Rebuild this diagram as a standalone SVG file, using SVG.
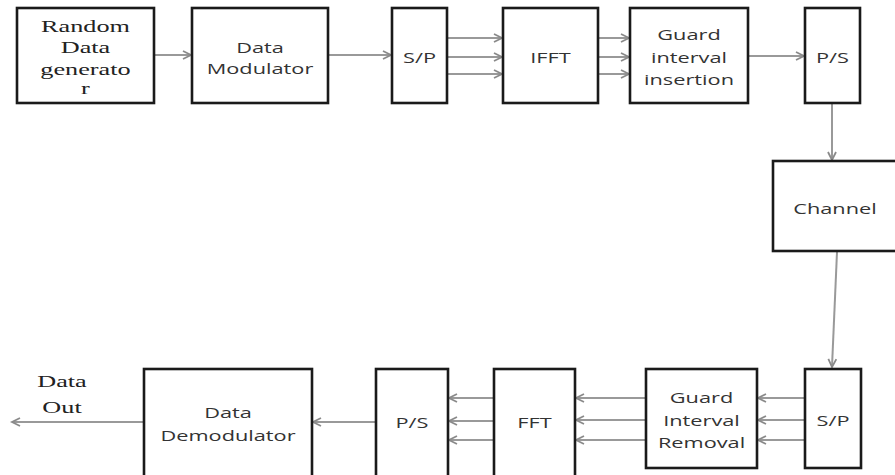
<svg xmlns="http://www.w3.org/2000/svg" width="895" height="475" viewBox="0 0 895 475">
<defs>
<marker id="ah" markerWidth="12" markerHeight="12" refX="9" refY="5" orient="auto" markerUnits="userSpaceOnUse">
<path d="M1,1 L9,5 L1,9" fill="none" stroke="#8a8a8a" stroke-width="1.8"/>
</marker>
<style>
.box{fill:#fff;stroke:#1a1a1a;stroke-width:2.6}
.ln{stroke:#999;stroke-width:2;fill:none;marker-end:url(#ah)}
.t{font-family:"Open Sans","Liberation Sans",sans-serif;font-size:15px;fill:#333;text-anchor:middle}
.s{font-family:"Liberation Serif","DejaVu Serif",serif;font-size:17.5px;fill:#222;text-anchor:middle}
</style>
</defs>
<rect width="895" height="475" fill="#fff"/>
<g id="connectors">
<line class="ln" x1="155" y1="55" x2="191" y2="55"/>
<line class="ln" x1="329" y1="55" x2="391" y2="55"/>
<line class="ln" x1="448" y1="38" x2="502" y2="38"/>
<line class="ln" x1="448" y1="57" x2="502" y2="57"/>
<line class="ln" x1="448" y1="74" x2="502" y2="74"/>
<line class="ln" x1="599" y1="38" x2="629" y2="38"/>
<line class="ln" x1="599" y1="57" x2="629" y2="57"/>
<line class="ln" x1="599" y1="74" x2="629" y2="74"/>
<line class="ln" x1="749" y1="56" x2="804" y2="56"/>
<line class="ln" x1="832" y1="104" x2="832" y2="160"/>
<line class="ln" x1="837" y1="252" x2="832" y2="367"/>
<line class="ln" x1="804" y1="398" x2="758" y2="398"/>
<line class="ln" x1="804" y1="420" x2="758" y2="420"/>
<line class="ln" x1="804" y1="440" x2="758" y2="440"/>
<line class="ln" x1="645" y1="398" x2="576" y2="398"/>
<line class="ln" x1="645" y1="420" x2="576" y2="420"/>
<line class="ln" x1="645" y1="440" x2="576" y2="440"/>
<line class="ln" x1="493" y1="398" x2="449" y2="398"/>
<line class="ln" x1="493" y1="421" x2="449" y2="421"/>
<line class="ln" x1="493" y1="440" x2="449" y2="440"/>
<line class="ln" x1="375" y1="422" x2="313" y2="422"/>
<line class="ln" x1="143" y1="422" x2="12" y2="422"/>
</g>
<g id="random">
<rect class="box" x="17" y="8" width="137" height="95"/>
<g class="s" transform="translate(85.5,0) scale(1.5,1)">
<text x="0" y="32">Random</text><text x="0" y="53">Data</text><text x="0" y="75">generato</text><text x="0" y="94">r</text>
</g>
</g>
<g id="modulator">
<rect class="box" x="192" y="8" width="136" height="95"/>
<g class="t" transform="translate(260,0) scale(1.45,1)">
<text x="0" y="53">Data</text><text x="0" y="74">Modulator</text>
</g>
</g>
<g id="sp1">
<rect class="box" x="392" y="8" width="55" height="95"/>
<text class="t" transform="translate(419.5,63) scale(1.45,1)">S/P</text>
</g>
<g id="ifft">
<rect class="box" x="503" y="8" width="95" height="95"/>
<text class="t" transform="translate(550.5,63) scale(1.45,1)">IFFT</text>
</g>
<g id="gi">
<rect class="box" x="630" y="8" width="118" height="95"/>
<g class="t" transform="translate(689,0) scale(1.45,1)">
<text x="0" y="40">Guard</text><text x="0" y="63">interval</text><text x="0" y="85">insertion</text>
</g>
</g>
<g id="ps1">
<rect class="box" x="805" y="8" width="55" height="95"/>
<text class="t" transform="translate(832.5,63) scale(1.45,1)">P/S</text>
</g>
<g id="channel">
<rect class="box" x="773" y="161" width="130" height="90"/>
<text class="t" transform="translate(835,214) scale(1.45,1)">Channel</text>
</g>
<g id="sp2">
<rect class="box" x="805" y="369" width="56" height="99"/>
<text class="t" transform="translate(833,426) scale(1.45,1)">S/P</text>
</g>
<g id="gr">
<rect class="box" x="646" y="369" width="111" height="99"/>
<g class="t" transform="translate(701.5,0) scale(1.45,1)">
<text x="0" y="403">Guard</text><text x="0" y="426">Interval</text><text x="0" y="448">Removal</text>
</g>
</g>
<g id="fft">
<rect class="box" x="494" y="369" width="81" height="112"/>
<text class="t" transform="translate(534.5,428) scale(1.45,1)">FFT</text>
</g>
<g id="ps2">
<rect class="box" x="376" y="369" width="72" height="112"/>
<text class="t" transform="translate(412,428) scale(1.45,1)">P/S</text>
</g>
<g id="demod">
<rect class="box" x="144" y="369" width="168" height="112"/>
<g class="t" transform="translate(228,0) scale(1.45,1)">
<text x="0" y="418">Data</text><text x="0" y="441">Demodulator</text>
</g>
</g>
<g id="dataout">
<g class="s" transform="translate(62,0) scale(1.5,1)">
<text x="0" y="387">Data</text><text x="0" y="413">Out</text>
</g>
</g>
</svg>
